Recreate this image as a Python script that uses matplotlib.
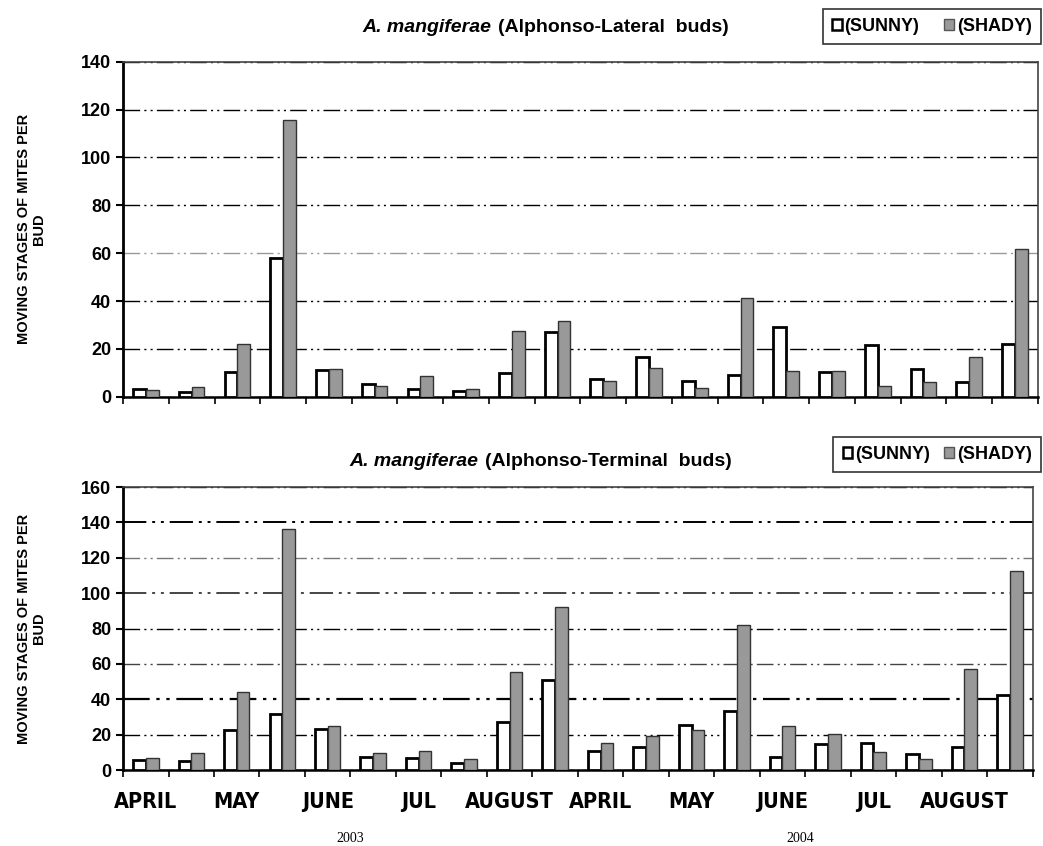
import matplotlib
matplotlib.use("Agg")
import matplotlib.pyplot as plt
import numpy as np
from matplotlib.patches import Patch
from matplotlib import font_manager as fm

plt.rcParams['font.family'] = ['Liberation Sans', 'DejaVu Sans']

# 20 sampling points, two years
months = ["APRIL", "MAY", "JUNE", "JUL", "AUGUST", "APRIL", "MAY", "JUNE", "JUL", "AUGUST"]
years = ["2003", "2004"]

lateral_sunny = [3.1, 2.0, 10.5, 57.9, 11.2, 5.3, 3.1, 2.6, 9.8, 27.2,
                 7.4, 16.7, 6.8, 9.1, 29.0, 10.2, 21.6, 11.6, 6.3, 22.0]
lateral_shady = [2.7, 3.9, 22.0, 115.8, 11.6, 4.7, 8.6, 3.2, 27.6, 31.7,
                 6.4, 12.1, 3.5, 41.4, 10.9, 10.7, 4.7, 6.0, 16.7, 61.8]

terminal_sunny = [5.6, 5.1, 22.6, 31.6, 23.2, 7.5, 6.6, 3.8, 27.3, 50.8,
                  10.7, 13.2, 25.4, 33.5, 7.5, 14.5, 15.1, 9.0, 12.8, 42.7]
terminal_shady = [6.6, 9.4, 44.3, 136.3, 24.9, 9.4, 10.9, 6.0, 55.2, 92.3,
                  15.4, 19.2, 22.6, 82.1, 24.9, 20.3, 10.4, 6.0, 57.1, 112.6]

ylabel = "MOVING STAGES OF MITES PER\nBUD"


# the month labels are in a narrow bold face; use one if the system has it
def narrow_bold():
    def is_bold(f):
        w = f.weight
        return w == 'bold' or (isinstance(w, (int, float)) and w >= 600) or str(w) == '700'
    names = ['Liberation Sans Narrow', 'DejaVu Sans', 'Roboto Condensed', 'Open Sans Condensed', 'Noto Sans']
    for nm in names:
        for f in fm.fontManager.ttflist:
            narrow = 'Narrow' in f.name or 'Condensed' in f.name or 'condensed' in str(f.stretch)
            if f.name.startswith(nm) and narrow and is_bold(f) and f.style == 'normal':
                return fm.FontProperties(fname=f.fname, size=15.5)
    return fm.FontProperties(family='DejaVu Sans', weight='bold', size=12.5)


month_font = narrow_bold()

fig = plt.figure(figsize=(10.43, 8.46), dpi=100)
ax1 = fig.add_axes([0.118, 0.531, 0.877, 0.396])
ax2 = fig.add_axes([0.118, 0.0898, 0.872, 0.3345])

x = np.arange(len(lateral_sunny))
w = 0.28
grid_ls = (0, (12, 3, 1.5, 3, 1.5, 3))


def draw(ax, sunny, shady, ymax, grid_styles):
    ax.bar(x - w / 2, sunny, w, color='white', edgecolor='black', linewidth=2.0, zorder=3)
    ax.bar(x + w / 2, shady, w, color='#999999', edgecolor='#333333', linewidth=1.0, zorder=3)
    ax.set_xlim(-0.5, len(x) - 0.5)
    ax.set_ylim(0, ymax)
    ax.set_yticks(np.arange(0, ymax + 1, 20))
    ax.yaxis.grid(True, linestyle=grid_ls, color='black', linewidth=1.0, zorder=1)
    for gl, (c, lw) in zip(ax.get_ygridlines(), grid_styles):
        gl.set_color(c)
        gl.set_linewidth(lw)
    ax.set_xticks(np.arange(len(x) + 1) - 0.5)
    ax.set_xticklabels([])
    ax.tick_params(axis='x', direction='out', length=5, width=1.2, color='black')
    ax.tick_params(axis='y', direction='out', length=5, width=1.5, labelsize=13)
    for lab in ax.get_yticklabels():
        lab.set_fontweight('bold')
    ax.spines['left'].set_linewidth(2.0)
    ax.spines['bottom'].set_linewidth(1.8)
    ax.spines['top'].set_linewidth(1.2)
    ax.spines['right'].set_linewidth(1.2)
    ax.spines['top'].set_color('#444444')
    ax.spines['right'].set_color('#444444')
    ax.set_ylabel(ylabel, fontsize=10.5, fontweight='bold', va='center', linespacing=1.1)
    ax.yaxis.set_label_coords(-0.1005, 0.5)


draw(ax1, lateral_sunny, lateral_shady, 140,
     [('black', 1.0), ('black', 1.0), ('black', 1.0), ('#999999', 1.0),
      ('black', 1.0), ('black', 1.0), ('black', 1.0), ('black', 1.0)])
draw(ax2, terminal_sunny, terminal_shady, 160,
     [('black', 1.0), ('black', 1.0), ('black', 1.6), ('#444444', 1.0),
      ('black', 1.0), ('#444444', 1.4), ('#777777', 1.0), ('black', 1.4), ('black', 1.0)])

# month labels under the bottom panel
ax2.set_xticks(np.arange(0, len(x), 2), minor=True)
ax2.set_xticklabels(months, minor=True, fontproperties=month_font)
ax2.tick_params(axis='x', which='minor', length=0, pad=16)

fig.text(350 / 1043, 1 - 838 / 846, years[0], family=['Liberation Serif'], fontsize=10, ha='center', va='center')
fig.text(800 / 1043, 1 - 838 / 846, years[1], family=['Liberation Serif'], fontsize=10, ha='center', va='center')

# titles: italic species name followed by plain bold text
fig.text(491 / 1043, 1 - 28 / 846, "A. mangiferae", fontsize=14, fontweight='bold', style='italic', ha='right', va='center')
fig.text(498 / 1043, 1 - 28 / 846, "(Alphonso-Lateral  buds)", fontsize=14, fontweight='bold', ha='left', va='center')
fig.text(478 / 1043, 1 - 461 / 846, "A. mangiferae", fontsize=14, fontweight='bold', style='italic', ha='right', va='center')
fig.text(485 / 1043, 1 - 461 / 846, "(Alphonso-Terminal  buds)", fontsize=14, fontweight='bold', ha='left', va='center')

handles = [Patch(facecolor='white', edgecolor='black', linewidth=1.8, label='(SUNNY)'),
           Patch(facecolor='#999999', edgecolor='#555555', linewidth=1.0, label='(SHADY)')]
for top, colsp in ((9 / 846, 1.4), (437 / 846, 0.8)):
    leg = fig.legend(handles=handles, loc='upper right', bbox_to_anchor=(1041 / 1043, 1 - top),
                     ncol=2, frameon=True, fancybox=False, edgecolor='black',
                     prop={'weight': 'bold', 'size': 13}, handlelength=0.55, handleheight=0.55,
                     handletextpad=0.15, columnspacing=colsp, borderpad=0.5, borderaxespad=0)
    leg.get_frame().set_linewidth(1.2)

plt.savefig('out.png', dpi=100)
